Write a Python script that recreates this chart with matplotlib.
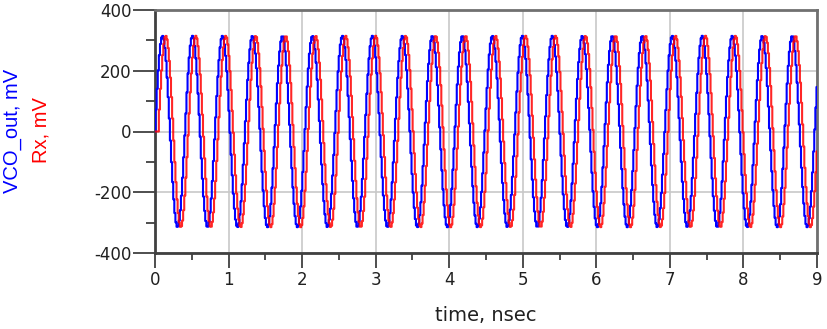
import numpy as np
import matplotlib
matplotlib.use("Agg")
import matplotlib.pyplot as plt
from matplotlib.ticker import MultipleLocator

plt.rcParams["axes.unicode_minus"] = False

# ---- data ----
t_start_ns = 0.0
t_stop_ns = 9.0
t_step_ns = 0.015         # simulation time step (fine staircase look)
vco_amplitude_mv = 315.0
rx_amplitude_mv = 315.0
freq_ghz = 2.453          # ~21 cycles between peaks at 0.11 and 8.67 ns
rx_delay_ns = 0.045       # Rx lags VCO_out slightly

x_ticks = [0, 1, 2, 3, 4, 5, 6, 7, 8, 9]
y_ticks = [-400, -200, 0, 200, 400]

time_ns = np.arange(t_start_ns, t_stop_ns + t_step_ns / 2, t_step_ns)
vco_out_mv = vco_amplitude_mv * np.sin(2 * np.pi * freq_ghz * time_ns)
rx_mv = np.where(time_ns >= rx_delay_ns,
                 rx_amplitude_mv * np.sin(2 * np.pi * freq_ghz * (time_ns - rx_delay_ns)),
                 0.0)

fig = plt.figure(figsize=(8.27, 3.29), dpi=100)
ax = fig.add_axes([155 / 827, 1 - 253 / 329, (817 - 155) / 827, (253 - 10) / 329])

ax.plot(time_ns, vco_out_mv, color="#0000ff", lw=1.5, drawstyle="steps-mid", zorder=3)
ax.plot(time_ns, rx_mv, color="#ff0000", lw=1.5, drawstyle="steps-mid", zorder=3, alpha=0.85)

ax.set_xlim(0, 9)
ax.set_ylim(-400, 400)
ax.set_xticks(x_ticks)
ax.set_yticks(y_ticks)
ax.xaxis.set_minor_locator(MultipleLocator(0.5))
ax.yaxis.set_minor_locator(MultipleLocator(100))

ax.grid(True, which="major", color="#c8c8c8", lw=1.2, zorder=0)
ax.tick_params(axis="y", which="major", direction="out", length=16, width=1.3,
               color="#404040", labelsize=12, pad=1)
ax.tick_params(axis="y", which="minor", direction="out", length=6.5, width=1.3, color="#404040")
ax.tick_params(axis="x", which="major", direction="out", length=11, width=1.3,
               color="#404040", labelsize=12, pad=2)
ax.tick_params(axis="x", which="minor", direction="out", length=5, width=1.3, color="#404040")
for lab in ax.get_xticklabels() + ax.get_yticklabels():
    lab.set_color("#202020")

for side in ["left", "bottom"]:
    ax.spines[side].set_color("#404040")
    ax.spines[side].set_linewidth(2)
for side in ["top", "right"]:
    ax.spines[side].set_color("#707070")
    ax.spines[side].set_linewidth(2)

ax.set_xlabel("time, nsec", fontsize=14, labelpad=12, color="#202020")

fig.text(13 / 827, 1 - 130.5 / 329, "VCO_out, mV", rotation=90, color="#0000ff",
         fontsize=14.5, family="Liberation Sans", ha="center", va="center")
fig.text(41 / 827, 1 - 130.5 / 329, "Rx, mV", rotation=90, color="#ff0000",
         fontsize=14.5, family="Liberation Sans", ha="center", va="center")

fig.savefig("out.png", dpi=100)
